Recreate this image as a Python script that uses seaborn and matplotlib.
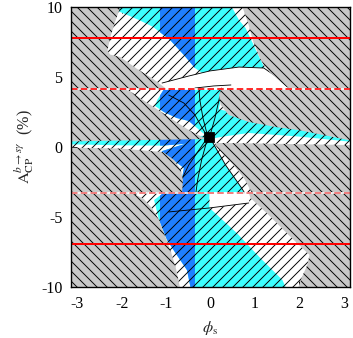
import numpy as np
import seaborn as sns
import matplotlib.pyplot as plt
from matplotlib.patches import Polygon, Rectangle

# ---------------- 数据: 区域边界 (phi_s, A_CP[%]) ----------------
# 灰色(排除)区域, 反斜线阴影
gray_ul_top = [(-3.3, 10.5), (-2.06, 10.5), (-2.03, 10.0), (-2.15, 8.93), (-2.26, 7.79), (-2.32, 6.9),
               (-2.26, 6.6), (-2.03, 6.43), (-1.65, 5.57), (-1.29, 4.86), (-0.98, 4.12), (-3.3, 4.12)]
gray_ur_top = [(0.71, 10.5), (0.72, 10.0), (0.86, 8.71), (0.95, 7.64), (1.04, 6.93), (1.1, 6.43), (1.2, 5.86),
               (1.35, 5.29), (1.53, 4.79), (1.71, 4.29), (1.85, 4.12), (3.3, 4.12), (3.3, 10.5)]
gray_ul_mid = [(-3.3, 4.12), (-1.92, 4.12), (-1.79, 3.93), (-1.38, 3.07), (-0.94, 2.14), (-0.49, 1.21),
               (-0.1, 0.57), (-1.38, 0.5), (-3.3, 0.39)]
gray_ll_mid = [(-3.3, -0.04), (-2.03, -0.11), (-1.07, -0.36), (-0.82, -0.93), (-0.67, -1.64), (-0.62, -2.36),
               (-0.64, -3.25), (-3.3, -3.25)]
gray_ll_bot = [(-3.3, -3.25), (-1.94, -3.25), (-1.72, -3.36), (-1.5, -3.71), (-1.32, -4.36), (-1.16, -5.21),
               (-1.03, -6.29), (-0.89, -7.5), (-0.78, -8.64), (-0.69, -10.0), (-0.68, -10.5), (-3.3, -10.5)]
gray_ur_mid = [(0.25, 4.12), (0.19, 3.71), (0.23, 3.0), (0.41, 2.29), (0.86, 1.79), (1.46, 1.43), (1.98, 1.21),
               (3.1, 0.5), (3.3, 0.45), (3.3, 4.12)]
gray_lr_mid = [(0.1, 0.29), (1.08, 0.25), (3.3, 0.13), (3.3, -3.25), (0.93, -3.25), (0.75, -2.21),
               (0.52, -1.29), (0.3, -0.57), (0.14, 0.0)]
gray_lr_bot = [(0.86, -3.25), (0.9, -3.64), (1.31, -4.86), (1.76, -6.29), (2.23, -7.71), (2.18, -8.43),
               (2.05, -9.36), (1.98, -10.0), (1.96, -10.5), (3.3, -10.5), (3.3, -3.25)]

# 青色区域 (其中 phi_s 在 blue_band 内的部分为蓝色)
cyan_top = [(-2.2, 10.5), (0.45, 10.5), (0.48, 10.0), (0.64, 9.07), (0.79, 8.5), (0.97, 7.29), (1.13, 6.21),
            (1.24, 5.5), (1.2, 5.64), (0.64, 5.71), (-0.02, 5.43), (-0.15, 5.2), (-0.35, 5.64), (-0.6, 6.57),
            (-0.91, 7.64), (-1.29, 8.57), (-1.61, 9.07), (-2.03, 9.64), (-2.15, 9.79)]
cyan_mid = [(-1.05, 4.12), (0.3, 4.12), (0.23, 3.36), (0.16, 2.29), (0.07, 1.36), (-0.04, 0.71), (-0.2, 1.07),
            (-0.49, 1.86), (-0.76, 2.07), (-1.05, 2.5), (-1.25, 2.93), (-1.2, 3.36)]
cyan_wedge = [(0.0, 2.8), (3.3, 0.8), (3.3, 0.33), (1.98, 0.75), (0.86, 1.0), (0.3, 0.75), (0.03, 0.6)]
cyan_band = [(-3.3, 0.6), (-0.1, 0.8), (-0.1, 0.35), (-1.07, 0.1), (-2.03, 0.12), (-3.3, 0.2)]
cyan_low = [(-1.1, -0.3), (-0.2, 0.6), (-0.02, 0.71), (0.34, -1.29), (0.7, -2.93), (0.75, -3.3), (-0.7, -3.3),
            (-0.6, -1.5)]
cyan_bot = [(-1.05, -3.25), (-0.02, -3.25), (-0.02, -4.36), (0.59, -6.14), (1.1, -7.86), (1.62, -9.5),
            (1.76, -10.5), (-0.42, -10.5), (-0.53, -8.79), (-0.76, -7.71), (-0.98, -6.64), (-1.16, -5.21),
            (-1.27, -3.79)]
blue_band = (-1.14, -0.35)

# 无阴影的白色透镜区域
lens_up = [(-1.09, 4.57), (-0.49, 5.07), (-0.02, 5.43), (0.64, 5.71), (1.2, 5.64), (1.53, 4.93),
           (1.82, 4.21), (1.82, 4.12), (-1.09, 4.12)]
lens_low = [(-0.02, -3.25), (0.9, -3.25), (0.88, -3.7), (0.86, -4.0), (0.4, -4.2), (-0.02, -4.36)]

# 细黑曲线
curves = [
    [(-1.09, 4.57), (-0.49, 5.07), (-0.02, 5.43), (0.64, 5.71), (1.2, 5.64), (1.53, 4.93), (1.82, 4.21)],
    [(-0.35, 4.21), (0.07, 4.36), (0.46, 4.43)],
    [(-0.94, 3.71), (-0.6, 3.14), (-0.35, 2.29), (-0.2, 1.43), (-0.06, 0.71)],
    [(-0.06, 0.71), (-0.17, 2.07), (-0.24, 3.36), (-0.26, 4.21)],
    [(-0.02, 0.71), (0.1, 2.07), (0.19, 3.36), (0.25, 4.21)],
    [(-0.06, 0.71), (-0.49, -1.29), (-0.71, -2.71), (-0.8, -3.29)],
    [(-0.06, 0.71), (-0.2, -0.93), (-0.29, -2.36), (-0.33, -3.29)],
    [(-0.02, 0.71), (0.34, -1.29), (0.7, -2.93), (0.77, -3.29)],
    [(-0.94, -4.64), (-0.04, -4.36), (0.86, -4.0)],
]

# 水平参考线与最佳点
red_solid = [7.8, -6.9]
red_dashed = [4.12, -3.25]
best_phi = [-0.04]
best_acp = [0.7]

x_ticks = [-3, -2, -1, 0, 1, 2, 3]
y_ticks = [-10, -5, 0, 5, 10]

# ---------------- 绘图 ----------------
sns.set_style('ticks')
plt.rcParams['font.family'] = ['Liberation Serif', 'DejaVu Serif']
plt.rcParams['mathtext.fontset'] = 'stix'
plt.rcParams['axes.unicode_minus'] = False
plt.rcParams['hatch.linewidth'] = 0.75

dpi = 90
fig = plt.figure(figsize=(353 / dpi, 338 / dpi), dpi=dpi)
ax = fig.add_axes([71 / 353, 1 - 287 / 338, 279 / 353, 280 / 338])
ax.set_xlim(-np.pi, np.pi)
ax.set_ylim(-10, 10)
ax.set_facecolor('white')

cyan = '#3cffff'
blue = '#1f7fff'
for poly in [cyan_top, cyan_mid, cyan_wedge, cyan_band, cyan_low, cyan_bot]:
    ax.add_patch(Polygon(poly, closed=True, facecolor=cyan, edgecolor='none', lw=0, zorder=1))
    bp = ax.add_patch(Polygon(poly, closed=True, facecolor=blue, edgecolor='none', lw=0, zorder=1.1))
    band = Rectangle((blue_band[0], -10), blue_band[1] - blue_band[0], 20,
                     facecolor='none', edgecolor='none', transform=ax.transData)
    bp.set_clip_path(band)

# 允许区域的斜线阴影
ax.add_patch(Rectangle((-np.pi, -10), 2 * np.pi, 20, facecolor='none', edgecolor='black',
                       lw=0, hatch='///', zorder=1.5))
for poly in [lens_up, lens_low]:
    ax.add_patch(Polygon(poly, closed=True, facecolor='white', edgecolor='none', lw=0, zorder=1.7))

for c in curves:
    xs, ys = zip(*c)
    ax.plot(xs, ys, color='black', lw=0.7, zorder=1.8)

# 灰色排除区域
for poly in [gray_ul_top, gray_ur_top, gray_ul_mid, gray_ll_mid, gray_ll_bot, gray_ur_mid,
             gray_lr_mid, gray_lr_bot]:
    ax.add_patch(Polygon(poly, closed=True, facecolor='#c8c8c8', edgecolor='black', lw=0,
                         hatch='\\\\\\', zorder=2))

for yv in red_solid:
    sns.lineplot(x=[-np.pi, np.pi], y=[yv, yv], color='red', lw=1.6, ax=ax, zorder=3)
for yv, col in zip(red_dashed, ['red', '#f06464']):
    ax.plot([-np.pi, np.pi], [yv, yv], color='white', lw=1.3, zorder=3)
    ax.plot([-np.pi, np.pi], [yv, yv], color=col, lw=1.3, ls=(0, (4, 2)), zorder=3.1)

sns.scatterplot(x=best_phi, y=best_acp, marker='s', s=60, color='black', edgecolor='black',
                ax=ax, zorder=4)

ax.set_xticks(x_ticks)
ax.set_yticks(y_ticks)
ax.set_xticklabels([str(t) for t in x_ticks])
ax.set_yticklabels([str(t) for t in y_ticks])
ax.tick_params(direction='in', length=5, width=0.8, top=True, right=True, labelsize=12.8,
               pad=7, colors='black')
for s in ax.spines.values():
    s.set_linewidth(1.1)
    s.set_color('black')
    s.set_zorder(5)

ax.set_xlabel(r'$\phi_{\mathrm{s}}$', fontsize=13, labelpad=6)
ax.set_ylabel(r'$\mathrm{A}_{\mathrm{CP}}^{b\rightarrow s\gamma}$  (%)', fontsize=13, labelpad=4)

fig.savefig('out.png', dpi=dpi)
